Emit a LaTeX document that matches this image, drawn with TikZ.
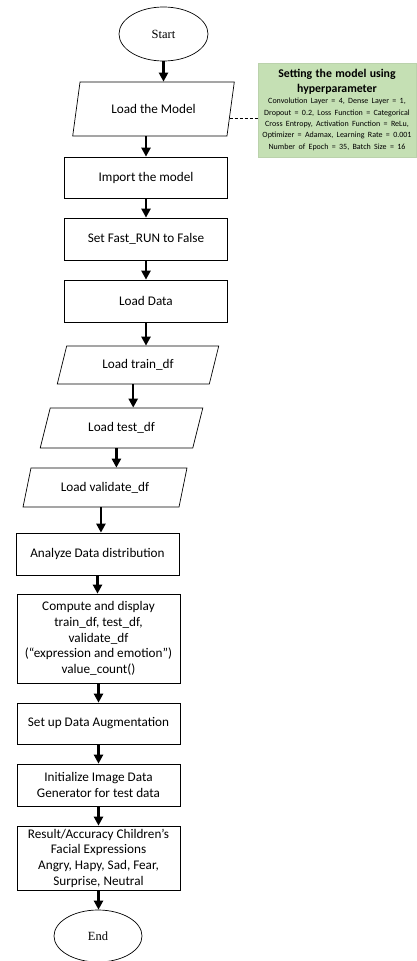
\documentclass[tikz,border=0pt]{standalone}
\usepackage{fontspec}
\setmainfont{Carlito}
\newfontfamily\myserif{Liberation Serif}
\usetikzlibrary{arrows.meta, calc, shapes.geometric}
\newlength{\myrulewidth}
\setlength{\myrulewidth}{0.7pt}
\newlength{\myBoxWidth}
\setlength{\myBoxWidth}{163pt}
\definecolor{myNoteGreen}{RGB}{197,224,180}

\begin{document}
\begin{tikzpicture}[x=1pt, y=-1pt,
                    my rule/.style={line width=\myrulewidth},
                    my box/.style={
                      my rule, draw, rectangle, minimum width=\myBoxWidth,
                      inner sep=2pt, align=center,
                      font=\fontsize{13.2}{15.6}\selectfont},
                    my io/.style={
                      my box, trapezium, trapezium left angle=71.6,
                      trapezium right angle=108.4, trapezium stretches=true},
                    my terminal/.style={
                      my rule, draw, ellipse, inner sep=0pt,
                      font=\myserif\fontsize{12.5}{15}\selectfont},
                    my arrow/.style={
                      -{Triangle[length=9pt, width=9pt]}, line width=2.4pt},
                    my note/.style={
                      fill=myNoteGreen, draw=myNoteGreen!85!gray, my rule,
                      minimum width=158pt, minimum height=94pt,
                      text width=156pt, inner sep=1pt, align=center}]

\useasboundingbox (0,0) rectangle (416,961);

\node[my terminal, minimum width=89pt, minimum height=54pt]
  (start) at (163.5,34) {Start};
\node[my io, minimum width=163pt, minimum height=54pt]
  (model) at (153.5,109) {Load the Model};
\node[my box, minimum height=41pt] (import)   at (146,177.5) {Import the model};
\node[my box, minimum height=42pt] (fastrun)  at (146,239)   {Set Fast\_RUN to False};
\node[my box, minimum height=42pt] (loaddata) at (146,301)   {Load Data};
\node[my io, minimum width=162pt, minimum height=38pt]
  (train) at (138,365) {Load train\_df};
\node[my io, minimum width=163pt, minimum height=40pt]
  (test) at (121.5,428) {Load test\_df};
\node[my io, minimum width=164pt, minimum height=39pt]
  (valid) at (105,487.5) {Load validate\_df};
\node[my box, minimum height=42pt] (analyze) at (97.5,554) {Analyze Data distribution};
\node[my box, minimum height=89pt] (compute) at (98.5,638.5)
  {Compute and display\\ train\_df, test\_df,\\ validate\_df\\
   (“expression and emotion”)\\ value\_count()};
\node[my box, minimum height=41pt] (augment) at (98.5,723.5) {Set up Data Augmentation};
\node[my box, minimum height=42pt] (init) at (98.5,785)
  {Initialize Image Data\\ Generator for test data};
\node[my box, minimum height=64pt] (result) at (98.5,858)
  {Result/Accuracy Children’s\\ Facial Expressions\\ Angry, Hapy, Sad, Fear,\\
   Surprise, Neutral};
\node[my terminal, minimum width=88pt, minimum height=52pt]
  (end) at (98,936) {End};

\node[my note] (note) at (337,110)
  {{\fontsize{11.8}{15}\selectfont\bfseries Setting the model using\\ hyperparameter\par}
   \fontsize{8}{11.3}\selectfont
   Convolution Layer = 4, Dense Layer = 1,\\
   Dropout = 0.2, Loss Function = Categorical\\
   Cross Entropy, Activation Function = ReLu,\\
   Optimizer = Adamax, Learning Rate = 0.001\\
   Number of Epoch = 35, Batch Size = 16};

% bottom middles of the slanted boxes
\foreach \n in {model, train, test, valid}
  \coordinate (\n-b) at ($(\n.bottom left corner)!0.5!(\n.bottom right corner)$);
\coordinate (link) at ($(model.top right corner)!0.67!(model.bottom right corner)$);

\draw[my rule, dash pattern=on 3pt off 2pt] (link) -- (link -| note.west);

\draw[my arrow] (start.south) -- (start.south |- model.north);
\draw[my arrow] (import.north |- model-b) -- (import.north);
\foreach \a/\b in {import/fastrun, fastrun/loaddata, loaddata/train,
                   analyze/compute, compute/augment, augment/init,
                   init/result, result/end}
  \draw[my arrow] (\a.south) -- (\a.south |- \b.north);
\foreach \a/\b in {train/test, test/valid, valid/analyze}
  \draw[my arrow] (\a-b) -- (\a-b |- \b.north);
\end{tikzpicture}
\end{document}
